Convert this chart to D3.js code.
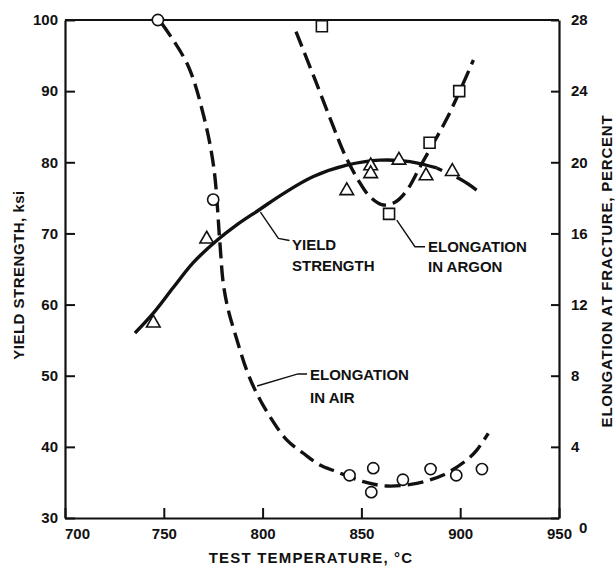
<!DOCTYPE html>
<html>
<head>
<meta charset="utf-8">
<script src="https://cdn.jsdelivr.net/npm/d3@7"></script>
<style>
  body { margin: 0; background: #fff; }
  svg { display: block; }
  text { font-family: "Liberation Sans", Arial, sans-serif; font-weight: bold; fill: #111; }
</style>
</head>
<body>
<div id="chart"></div>
<script>
// measured points
const airTemp = [747, 775, 844, 856, 855, 871, 885, 898, 911];
const airElong = [28, 17.9, 2.4, 2.8, 1.45, 2.15, 2.75, 2.4, 2.75];

const argonTemp = [830, 864, 884.5, 899.5];
const argonElong = [27.65, 17.1, 21.1, 24.0];

const yieldTemp = [744.7, 771.7, 842.6, 854.7, 854.7, 869, 882.7, 896];
const yieldKsi = [57.4, 69.2, 76.0, 79.5, 78.4, 80.3, 78.1, 78.7];

// fitted curves
const airCurveTemp = [749, 762, 770.2, 775.3, 778.4, 780.1, 782.6, 786.0, 791.9, 797.0, 803.7, 812.2, 820.6, 829.0, 837.5, 851, 862.8, 878, 891.4, 903.3, 908.4, 914.2];
const airCurveElong = [27.8, 25.5, 22.6, 19.7, 15.45, 13.19, 11.7, 10.39, 8.32, 7.01, 5.7, 4.39, 3.64, 2.98, 2.6, 2.04, 1.8, 1.95, 2.42, 3.26, 3.82, 4.76];

const argonCurveTemp = [816.9, 826, 835.8, 841.7, 848.4, 854.3, 861.1, 867, 872.9, 879.7, 886.4, 893, 900, 906.7];
const argonCurveElong = [27.34, 24.8, 22.0, 20.4, 19.0, 18.07, 17.6, 17.75, 18.4, 19.75, 21.07, 22.4, 24.06, 25.75];

const yieldCurveTemp = [735.4, 744.7, 754.8, 764.9, 776.8, 786.9, 798.7, 810.5, 825.7, 842.6, 859.4, 874.6, 888.1, 900.8, 908.3];
const yieldCurveKsi = [56.0, 58.8, 62.4, 65.9, 69.0, 71.2, 73.4, 75.6, 78.0, 79.6, 80.3, 80.1, 79.2, 77.5, 76.1];

// ticks
const tempTicks = [700, 750, 800, 850, 900, 950];
const ksiTicks = [30, 40, 50, 60, 70, 80, 90, 100];
const elongTicks = [0, 4, 8, 12, 16, 20, 24, 28];

const width = 616;
const height = 569;
const area = { left: 65, right: 559, top: 20, bottom: 518 };

const svg = d3.select('#chart')
  .append('svg')
  .attr('width', width)
  .attr('height', height);

const x = d3.scaleLinear().domain([700, 950]).range([area.left, area.right]);
const yL = d3.scaleLinear().domain([30, 100]).range([area.bottom, area.top]);
const yR = d3.scaleLinear().domain([0, 28]).range([area.bottom, area.top]);

// axes
const xAxis = svg.append('g')
  .attr('transform', `translate(0,${area.bottom})`)
  .call(d3.axisBottom(x).tickValues(tempTicks).tickSizeInner(-10).tickSizeOuter(0).tickPadding(10));

const leftAxis = svg.append('g')
  .attr('transform', `translate(${area.left},0)`)
  .call(d3.axisLeft(yL).tickValues(ksiTicks).tickSizeInner(-10).tickSizeOuter(0).tickPadding(7));

const rightAxis = svg.append('g')
  .attr('transform', `translate(${area.right},0)`)
  .call(d3.axisRight(yR).tickValues(elongTicks).tickSizeInner(-8).tickSizeOuter(0).tickPadding(12));

[xAxis, leftAxis, rightAxis].forEach(g => {
  g.select('.domain').attr('stroke', '#111').attr('stroke-width', 2.2);
  g.selectAll('.tick line').attr('stroke', '#111').attr('stroke-width', 2);
  g.selectAll('.tick text')
    .style('font-family', '"Liberation Sans", Arial, sans-serif')
    .style('font-weight', 'bold')
    .style('font-size', '15px')
    .attr('fill', '#111');
});

// little nudges like the original lettering
xAxis.selectAll('.tick text').filter(d => d === 700).attr('dx', 12);
rightAxis.selectAll('.tick text').filter(d => d === 0).attr('dx', 8).attr('dy', '0.95em');

// top frame line
svg.append('line')
  .attr('x1', area.left).attr('x2', area.right)
  .attr('y1', area.top).attr('y2', area.top)
  .attr('stroke', '#111').attr('stroke-width', 2);

// axis titles
svg.append('text')
  .attr('transform', `translate(24,${(area.top + area.bottom) / 2 + 6}) rotate(-90)`)
  .attr('text-anchor', 'middle')
  .style('font-size', '15px')
  .style('letter-spacing', '0.5px')
  .text('YIELD STRENGTH, ksi');

svg.append('text')
  .attr('transform', `translate(612,${(area.top + area.bottom) / 2 + 2}) rotate(-90)`)
  .attr('text-anchor', 'middle')
  .style('font-size', '15px')
  .style('letter-spacing', '0.8px')
  .text('ELONGATION AT FRACTURE,  PERCENT');

svg.append('text')
  .attr('x', 311).attr('y', 563)
  .attr('text-anchor', 'middle')
  .style('font-size', '15px')
  .style('letter-spacing', '1.2px')
  .text('TEST TEMPERATURE, °C');

// curves
const airLine = d3.line()
  .x(i => x(airCurveTemp[i]))
  .y(i => yR(airCurveElong[i]))
  .curve(d3.curveCatmullRom);

const argonLine = d3.line()
  .x(i => x(argonCurveTemp[i]))
  .y(i => yR(argonCurveElong[i]))
  .curve(d3.curveCatmullRom);

const yieldLine = d3.line()
  .x(i => x(yieldCurveTemp[i]))
  .y(i => yL(yieldCurveKsi[i]))
  .curve(d3.curveCatmullRom);

const curves = svg.append('g').attr('fill', 'none').attr('stroke', '#111').attr('stroke-width', 3.4);

curves.append('path')
  .attr('d', airLine(d3.range(airCurveTemp.length)))
  .attr('stroke-dasharray', '16,7');

curves.append('path')
  .attr('d', argonLine(d3.range(argonCurveTemp.length)))
  .attr('stroke-dasharray', '16,7');

const solidEnd = 12;
curves.append('path')
  .attr('d', yieldLine(d3.range(0, solidEnd + 1)));

curves.append('path')
  .attr('d', yieldLine(d3.range(solidEnd, yieldCurveTemp.length)))
  .attr('stroke-dasharray', '6,16,40');

// leader lines and labels
const notes = [
  { lines: ['YIELD', 'STRENGTH'], scale: yL, gap: 21, text: [814.9, 67.67], leader: [[798.9, 73.0], [808, 69.3], [813.6, 69.0]] },
  { lines: ['ELONGATION', 'IN ARGON'], scale: yR, gap: 20, text: [883.7, 14.96], leader: [[867.9, 16.75], [877.1, 15.25], [882.2, 15.25]] },
  { lines: ['ELONGATION', 'IN AIR'], scale: yR, gap: 23, text: [824, 7.76], leader: [[797.2, 7.42], [817.9, 8.1], [822.5, 8.1]] }
];

notes.forEach(n => {
  svg.append('path')
    .attr('d', d3.line()(n.leader.map(p => [x(p[0]), n.scale(p[1])])))
    .attr('fill', 'none')
    .attr('stroke', '#111')
    .attr('stroke-width', 1.4);

  const t = svg.append('text')
    .attr('x', x(n.text[0]))
    .attr('y', n.scale(n.text[1]))
    .style('font-size', '15px');
  n.lines.forEach((s, i) => {
    t.append('tspan')
      .attr('x', x(n.text[0]))
      .attr('dy', i === 0 ? 0 : n.gap)
      .text(s);
  });
});

// markers
const marks = svg.append('g').attr('fill', '#fff').attr('stroke', '#111').attr('stroke-width', 1.6);

marks.selectAll('circle')
  .data(d3.range(airTemp.length))
  .join('circle')
  .attr('cx', i => x(airTemp[i]))
  .attr('cy', i => yR(airElong[i]))
  .attr('r', 5.6);

marks.selectAll('path.tri')
  .data(d3.range(yieldTemp.length))
  .join('path')
  .attr('class', 'tri')
  .attr('transform', i => `translate(${x(yieldTemp[i])},${yL(yieldKsi[i])})`)
  .attr('d', d3.symbol(d3.symbolTriangle, 80));

marks.selectAll('path.sq')
  .data(d3.range(argonTemp.length))
  .join('path')
  .attr('class', 'sq')
  .attr('transform', i => `translate(${x(argonTemp[i])},${yR(argonElong[i])})`)
  .attr('d', d3.symbol(d3.symbolSquare, 121));
</script>
</body>
</html>
